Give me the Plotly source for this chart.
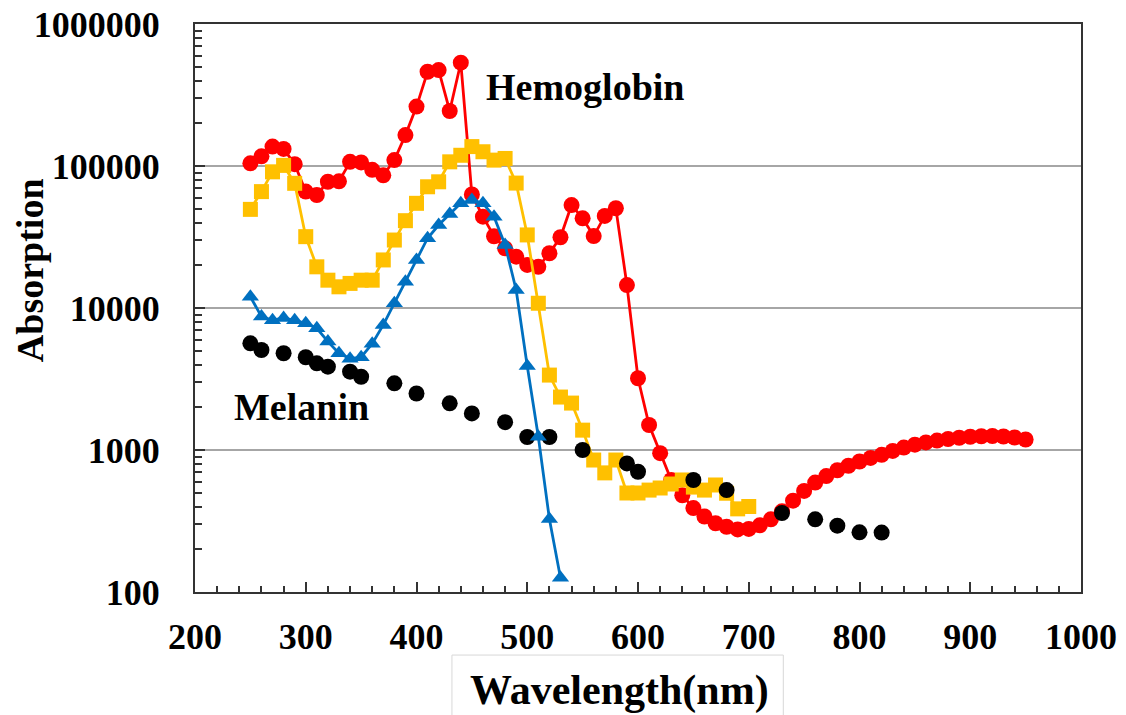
import plotly.graph_objects as go

# ---- data ----
hb_nm = list(range(250, 951, 10))
hb_abs = [104500, 117000, 137000, 132000, 103000, 66000, 62500, 77500, 78000, 107000,
          106000, 94000, 86000, 110000, 165000, 262000, 461000, 474000, 244000, 534000,
          63000, 44000, 32000, 26300, 23000, 20100, 19500, 24300, 31500, 53100,
          42800, 32100, 44500, 50400, 14500, 3200, 1500, 950, 615, 480,
          390, 340, 305, 288, 276, 278, 295, 325, 370, 440,
          515, 590, 655, 720, 775, 830, 880, 925, 985, 1040,
          1090, 1130, 1165, 1195, 1220, 1240, 1250, 1255, 1245, 1225,
          1185]

hbo_nm = list(range(250, 701, 10))
hbo_abs = [49500, 66000, 91000, 101000, 75500, 31800, 19500, 15700, 14100, 14900,
           15700, 15700, 21800, 30100, 41200, 54600, 71400, 77400, 107000, 119000,
           137000, 126000, 110000, 113000, 75800, 32700, 10800, 3370, 2360, 2140,
           1380, 850, 690, 850, 498, 498, 522, 540, 576, 615,
           548, 522, 567, 496, 385, 400]

bl_nm = list(range(250, 531, 10))
bl_abs = [12000, 8700, 8200, 8500, 8200, 7800, 7200, 5800, 4800, 4400,
          4500, 5600, 7600, 10800, 15300, 21800, 31000, 38400, 46000, 54600,
          57700, 54600, 44000, 27800, 13400, 3900, 1240, 327, 126]

mel_nm = [250, 260, 280, 300, 310, 320, 340, 350, 380, 400, 430, 450, 480, 500,
          520, 550, 590, 600, 650, 680, 730, 760, 780, 800, 820]
mel_abs = [5640, 5060, 4800, 4500, 4080, 3860, 3560, 3280, 2950, 2500, 2130, 1810,
           1570, 1235, 1235, 1000, 805, 703, 615, 522, 360, 325, 293, 263, 262]

x_ticks = [200, 300, 400, 500, 600, 700, 800, 900, 1000]
y_ticks = [100, 1000, 10000, 100000, 1000000]
y_tick_text = ["100", "1000", "10000", "100000", "1000000"]
y_minor = [d * 10 ** k for k in range(2, 6) for d in range(2, 10)]

SERIF = "Liberation Serif, Times New Roman, serif"

fig = go.Figure()
fig.add_trace(go.Scatter(x=hb_nm, y=hb_abs, mode="lines+markers",
                         line=dict(color="#FF0000", width=2.8),
                         marker=dict(symbol="circle", size=16, color="#FF0000"),
                         showlegend=False))
fig.add_trace(go.Scatter(x=hbo_nm, y=hbo_abs, mode="lines+markers",
                         line=dict(color="#FFC000", width=2.8),
                         marker=dict(symbol="square", size=15, color="#FFC000"),
                         showlegend=False))
fig.add_trace(go.Scatter(x=mel_nm, y=mel_abs, mode="markers",
                         marker=dict(symbol="circle", size=16, color="#000000"),
                         showlegend=False))
fig.add_trace(go.Scatter(x=bl_nm, y=bl_abs, mode="lines+markers",
                         line=dict(color="#0070C0", width=2.8),
                         marker=dict(symbol="triangle-up", size=15, color="#0070C0"),
                         showlegend=False))

fig.update_xaxes(range=[200, 1000], tickvals=x_ticks, ticks="inside", ticklen=10,
                 tickcolor="#333", tickwidth=1.5,
                 minor=dict(ticks="inside", ticklen=6, dtick=20, tickcolor="#333"),
                 showgrid=False, zeroline=False, automargin=False,
                 showline=True, mirror=True, linecolor="#333", linewidth=2,
                 tickfont=dict(family=SERIF, size=36, color="black", weight="bold"),
                 ticklabelstandoff=12, ticklabeloverflow="allow")
fig.update_yaxes(type="log", range=[2, 6], tickvals=y_ticks, ticktext=y_tick_text,
                 ticks="inside", ticklen=10, tickcolor="#333", tickwidth=1.5,
                 minor=dict(ticks="inside", ticklen=7, tickcolor="#333",
                            tickmode="array", tickvals=y_minor, showgrid=False),
                 showgrid=True, gridcolor="#A6A6A6", gridwidth=2, automargin=False,
                 showline=True, mirror=True, linecolor="#333", linewidth=2,
                 tickfont=dict(family=SERIF, size=36, color="black", weight="bold"),
                 ticklabelstandoff=26, ticklabeloverflow="allow")

fig.add_annotation(x=552, y=5.556, text="Hemoglobin", showarrow=False,
                   xanchor="center", yanchor="middle",
                   font=dict(family=SERIF, size=38, color="black", weight="bold"))
fig.add_annotation(x=296, y=3.303, text="Melanin", showarrow=False,
                   xanchor="center", yanchor="middle",
                   font=dict(family=SERIF, size=38, color="black", weight="bold"))

# axis titles
fig.add_annotation(xref="paper", yref="paper", x=0.4786, y=-0.173,
                   xanchor="center", yanchor="middle",
                   text="Wavelength(nm)", showarrow=False,
                   font=dict(family=SERIF, size=42, color="black", weight="bold"))
fig.add_shape(type="rect", xref="paper", yref="paper", x0=0.290, x1=0.664,
              y0=-0.230, y1=-0.111, line=dict(color="#D8D8D8", width=1))
fig.add_annotation(xref="paper", yref="paper", x=-0.186, y=0.567,
                   xanchor="center", yanchor="middle",
                   text="Absorption", showarrow=False, textangle=-90,
                   font=dict(family=SERIF, size=38, color="black", weight="bold"))

# page body has an 8px margin: figure is 1118x707 so the plot area lands at 195..1081 x 24..592
fig.update_layout(width=1118, height=707,
                  margin=dict(l=187, r=45, t=16, b=123),
                  plot_bgcolor="white", paper_bgcolor="white")

fig.write_html("out.html")
